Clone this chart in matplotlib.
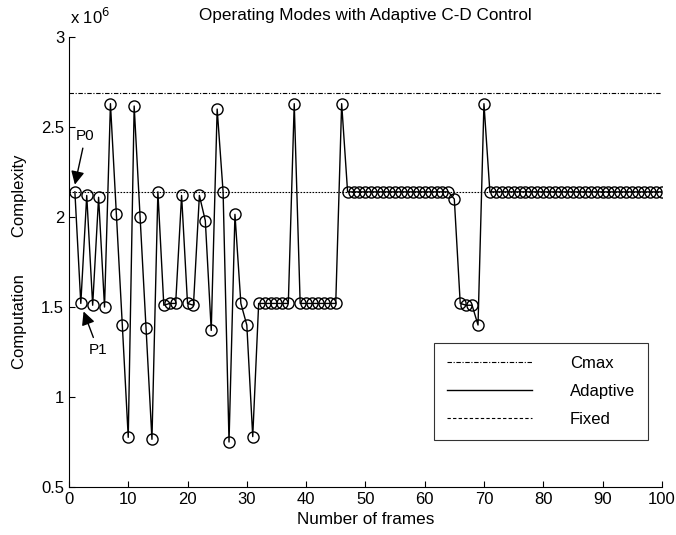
import matplotlib
matplotlib.use('Agg')
import matplotlib.pyplot as plt
from matplotlib.lines import Line2D

plt.rcParams['font.family'] = ['Liberation Sans', 'DejaVu Sans']

frames = list(range(1, 101))
adaptive = [2.14, 1.52, 2.12, 1.51, 2.11, 1.50, 2.63, 2.015, 1.40, 0.776,
            2.617, 2.00, 1.385, 0.765, 2.14, 1.51, 1.52, 1.52, 2.12, 1.52,
            1.51, 2.12, 1.98, 1.37, 2.60, 2.14, 0.75, 2.015, 1.52, 1.40,
            0.78, 1.52, 1.52, 1.52, 1.52, 1.52, 1.52, 2.63, 1.52, 1.52,
            1.52, 1.52, 1.52, 1.52, 1.52, 2.63, 2.14, 2.14, 2.14, 2.14,
            2.14, 2.14, 2.14, 2.14, 2.14, 2.14, 2.14, 2.14, 2.14, 2.14,
            2.14, 2.14, 2.14, 2.14, 2.10, 1.52, 1.51, 1.51, 1.40, 2.63,
            2.14, 2.14, 2.14, 2.14, 2.14, 2.14, 2.14, 2.14, 2.14, 2.14,
            2.14, 2.14, 2.14, 2.14, 2.14, 2.14, 2.14, 2.14, 2.14, 2.14,
            2.14, 2.14, 2.14, 2.14, 2.14, 2.14, 2.14, 2.14, 2.14, 2.14]
cmax = 2.69
fixed = 2.14
scale = 1e6

fig = plt.figure(figsize=(6.76, 5.35), dpi=100)
ax = fig.add_axes([0.102, 0.0897, 0.877, 0.841])

dashdot = (0, (4, 1.5, 1, 1.5))
ax.plot([0, 100], [cmax * scale] * 2, color='black', lw=0.8, linestyle=dashdot)
ax.plot(frames, [v * scale for v in adaptive], color='black', lw=1,
        marker='o', markersize=8, markerfacecolor='none',
        markeredgecolor='black', markeredgewidth=1)
ax.plot([0, 100], [fixed * scale] * 2, color='black', lw=0.8,
        linestyle=(0, (1.5, 1.2)))

ax.set_xlim(0, 100)
ax.set_ylim(0.5e6, 3e6)
ax.set_xticks(range(0, 101, 10))
ax.set_yticks([0.5e6, 1e6, 1.5e6, 2e6, 2.5e6, 3e6])
ax.set_yticklabels(['0.5', '1', '1.5', '2', '2.5', '3'])
ax.tick_params(direction='in', labelsize=12, length=4)
ax.spines['top'].set_visible(False)
ax.spines['right'].set_visible(False)

ax.set_title('Operating Modes with Adaptive C-D Control', fontsize=12.3, pad=12)
ax.set_xlabel('Number of frames', fontsize=12.3)
ax.set_ylabel('Computation        Complexity', fontsize=12, labelpad=10)
fig.text(0.104, 0.955, r'x 10$^6$', fontsize=12)

ax.annotate('P0', xy=(0.9, 2.165e6), xytext=(2.8, 2.43e6), fontsize=11,
            ha='center', arrowprops=dict(arrowstyle='-|>', color='black',
                                         lw=1, mutation_scale=20, shrinkA=2))
ax.annotate('P1', xy=(2.3, 1.49e6), xytext=(4.9, 1.24e6), fontsize=11,
            ha='center', arrowprops=dict(arrowstyle='-|>', color='black',
                                         lw=1, mutation_scale=20, shrinkA=2))

handles = [Line2D([], [], color='black', lw=0.8, linestyle=dashdot),
           Line2D([], [], color='black', lw=1),
           Line2D([], [], color='black', lw=0.8, linestyle=(0, (3, 2)))]
leg = ax.legend(handles, ['Cmax', 'Adaptive', 'Fixed'],
                loc='lower right', bbox_to_anchor=(0.976, 0.105),
                fontsize=12, fancybox=False, edgecolor='black',
                handlelength=5.1, handletextpad=2.3, labelspacing=0.8,
                borderpad=0.75, borderaxespad=0)
leg.get_frame().set_linewidth(0.8)

fig.savefig('out.png', dpi=100)
